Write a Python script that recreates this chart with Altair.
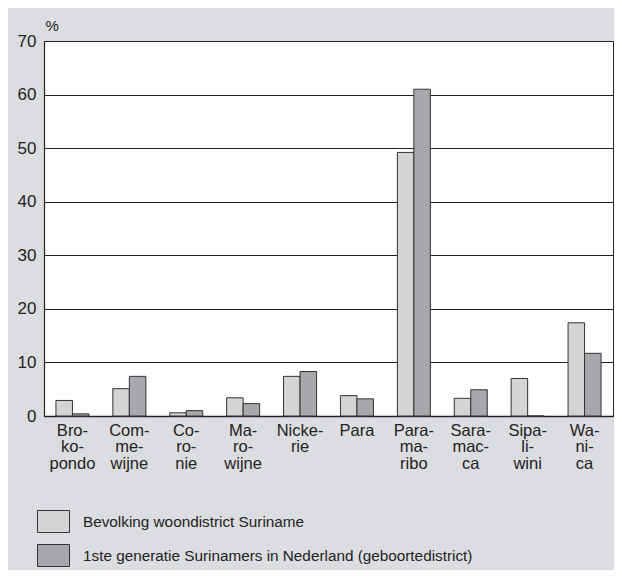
import altair as alt
import pandas as pd

districts = ["Bro-|ko-|pondo", "Com-|me-|wijne", "Co-|ro-|nie", "Ma-|ro-|wijne",
             "Nicke-|rie", "Para", "Para-|ma-|ribo", "Sara-|mac-|ca",
             "Sipa-|li-|wini", "Wa-|ni-|ca"]
bevolking = [2.9, 5.1, 0.6, 3.4, 7.4, 3.8, 49.2, 3.3, 7.0, 17.4]
eerste_generatie = [0.4, 7.4, 1.0, 2.3, 8.3, 3.2, 61.0, 4.9, 0.0, 11.7]
series = ["Bevolking woondistrict Suriname",
          "1ste generatie Surinamers in Nederland (geboortedistrict)"]
colors = ["#d3d4d6", "#a7a8ab"]
y_ticks = [0, 10, 20, 30, 40, 50, 60, 70]

rows = []
for d, a, b in zip(districts, bevolking, eerste_generatie):
    rows.append({"district": d, "serie": series[0], "order": 0, "value": a})
    rows.append({"district": d, "serie": series[1], "order": 1, "value": b})
df = pd.DataFrame(rows)

FONT = "Liberation Sans"

chart = alt.Chart(df).mark_bar(stroke="#333333", strokeWidth=1).encode(
    x=alt.X("district:N", sort=districts,
            scale=alt.Scale(paddingInner=0.42, paddingOuter=0.21),
            axis=alt.Axis(title=None, labelAngle=0, ticks=False, labelPadding=6,
                          labelFontSize=16.5, labelLineHeight=16.5, labelBaseline="top",
                          labelExpr="split(datum.label, '|')", domainColor="#222222",
                          domainWidth=1.5, labelColor="#222222", labelFont=FONT)),
    xOffset=alt.XOffset("serie:N", sort=series, scale=alt.Scale(domain=series)),
    y=alt.Y("value:Q", scale=alt.Scale(domain=[0, 70], nice=False),
            axis=alt.Axis(values=y_ticks, title="%", titleAngle=0, titleX=1, titleY=-11,
                          titleAlign="left", titleBaseline="alphabetic",
                          titleFontSize=15, titleFontWeight="normal", titleColor="#222222",
                          titleFont=FONT,
                          ticks=False, labelPadding=8, labelFontSize=17,
                          labelColor="#222222", labelFont=FONT,
                          grid=True, gridColor="#222222", gridWidth=1,
                          domainColor="#222222", domainWidth=1.2)),
    color=alt.Color("serie:N", sort=series,
                    scale=alt.Scale(domain=series, range=colors),
                    legend=alt.Legend(orient="none", legendX=-7, legendY=464, title=None,
                                      symbolType="M-1,-0.6875H1V0.6875H-1Z",
                                      symbolSize=1024, symbolStrokeColor="#333333",
                                      symbolStrokeWidth=1, symbolOpacity=1,
                                      labelFontSize=15.3, labelOffset=13, rowPadding=4,
                                      labelFont=FONT, labelColor="#222222",
                                      labelLimit=600)),
).properties(
    width=569, height=375,
    autosize=alt.AutoSizeParams(type="none"),
    padding={"left": 36, "top": 33, "right": 1, "bottom": 154},
    background="#dcdde0",
).configure_view(
    stroke="#222222", strokeWidth=1, fill="white"
)

chart.save("out.html", embed_options={"renderer": "svg", "actions": False})
